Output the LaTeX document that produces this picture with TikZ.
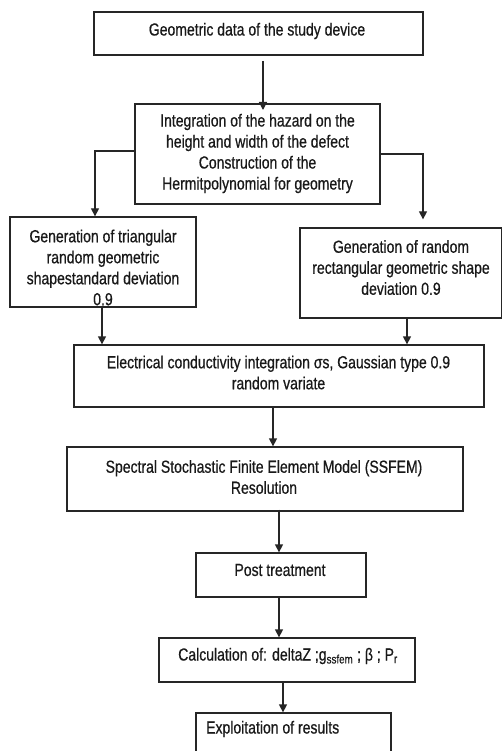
\documentclass[tikz,border=0pt]{standalone}
\usepackage{fontspec}
\setmainfont[FakeStretch=0.8,FakeBold=0.6]{Liberation Sans}
\usetikzlibrary{arrows.meta,calc}
\begin{document}
\begin{tikzpicture}[x=1pt,y=-1pt,
  box/.style={draw=black!85,line width=1.3pt,rectangle,inner sep=0pt},
  txt/.style={align=center,inner sep=0pt,text=black!90,font=\fontsize{17.5}{21}\selectfont},
  arr/.style={draw=black!85,line width=1.3pt,-{Triangle[length=8pt,width=8pt]}}]
\useasboundingbox[fill=white] (0,0) rectangle (501,751);
% boxes
\node[box,minimum width=329pt,minimum height=43pt] (b1) at (258.5,33.5) {};
\node[box,minimum width=245pt,minimum height=100pt] (b2) at (257.5,154) {};
\node[box,minimum width=186pt,minimum height=90pt] (b3) at (103,262) {};
\node[box,minimum width=202pt,minimum height=90pt] (b4) at (401,273) {};
\node[box,minimum width=410pt,minimum height=62pt] (b5) at (279,376) {};
\node[box,minimum width=396pt,minimum height=64pt] (b6) at (265,479) {};
\node[box,minimum width=170pt,minimum height=44pt] (b7) at (281,575) {};
\node[box,minimum width=256pt,minimum height=44pt] (b8) at (287,660) {};
\node[box,minimum width=195pt,minimum height=60pt] (b9) at (293.5,743) {};
% texts
\node[txt] (t1) at (257,31) {Geometric data of the study device};
\node[txt] (t2) at (257.5,153.5) {Integration of the hazard on the\\height and width of the defect\\Construction of the\\Hermitpolynomial for geometry};
\node[txt] (t3) at (103,267.5) {Generation of triangular\\random geometric\\shapestandard deviation\\0.9};
\node[txt] (t4) at (401,267.5) {Generation of random\\rectangular geometric shape\\deviation 0.9};
\node[txt] (t5) at (278.5,372.5) {Electrical conductivity  integration σs, Gaussian type 0.9\\random variate};
\node[txt] (t6) at (264,477) {Spectral Stochastic Finite Element Model (SSFEM)\\Resolution};
\node[txt] (t7) at (280,570) {Post treatment};
\node[txt] (t8) at (288,656) {Calculation of: deltaZ ;g\textsubscript{ssfem} ; β ; P\textsubscript{r}};
\node[txt,anchor=west] (t9) at (206,729) {Exploitation of results};
% connectors
\coordinate (a1s) at (263,61);
\coordinate (a1e) at (263,110);
\draw[arr] (a1s) -- (a1e);
\draw[arr] (b2.west |- 0,151) -| (b3.north -| 95,0);
\draw[arr] (b2.east |- 0,154) -| ($(b4.north -| 423,0)+(0,-8)$);
\draw[arr] (b3.south -| 102,0) -- (b5.north -| 102,0);
\draw[arr] (b4.south -| 407,0) -- (b5.north -| 407,0);
\draw[arr] (b5.south -| 273,0) -- (b6.north -| 273,0);
\draw[arr] ([yshift=2pt]b6.south -| 279,0) -- (b7.north -| 279,0);
\draw[arr] (b7.south -| 279,0) -- (b8.north -| 279,0);
\draw[arr] (b8.south -| 283,0) -- (b9.north -| 283,0);
\end{tikzpicture}
\end{document}
